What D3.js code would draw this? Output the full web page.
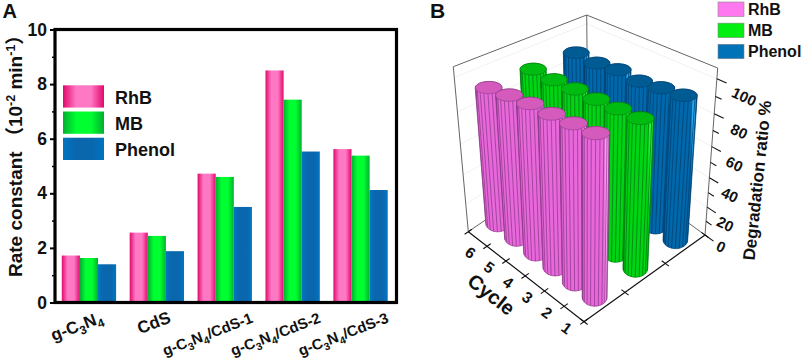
<!DOCTYPE html>
<html>
<head>
<meta charset="utf-8">
<script src="https://cdn.jsdelivr.net/npm/d3@7"></script>
<style>
  html, body { margin: 0; padding: 0; background: #fff; }
  svg { display: block; }
  text { font-family: "Liberation Sans", "Noto Sans CJK SC", sans-serif; font-weight: bold; fill: #111; }
</style>
</head>
<body>
<script>
const width = 803;
const height = 358;

// panel A data
const catalysts = ["g-C3N4", "CdS", "g-C3N4/CdS-1", "g-C3N4/CdS-2", "g-C3N4/CdS-3"];
const seriesNames = ["RhB", "MB", "Phenol"];
const rhbRate = [1.72, 2.56, 4.72, 8.5, 5.62];
const mbRate = [1.63, 2.44, 4.6, 7.43, 5.38];
const phenolRate = [1.4, 1.88, 3.5, 5.53, 4.12];
const rateTicks = [0, 2, 4, 6, 8, 10];
const rateMinor = [1, 3, 5, 7, 9];

// panel B data
const cycles = [1, 2, 3, 4, 5, 6];
const rhbDeg = [95, 94.5, 94, 94, 93, 91.5];
const mbDeg = [92, 91.5, 91, 91, 90.5, 91];
const phenolDeg = [93.5, 92, 90, 91, 89, 89.5];
const degTicks = [0, 20, 40, 60, 80, 100];
const cylBase = 1.5;

const svg = d3.select("body").append("svg").attr("width", width).attr("height", height);
const defs = svg.append("defs");

function barGradient(id, edge, mid) {
  const g = defs.append("linearGradient").attr("id", id).attr("x1", 0).attr("x2", 1).attr("y1", 0).attr("y2", 0);
  g.append("stop").attr("offset", "0%").attr("stop-color", edge);
  g.append("stop").attr("offset", "32%").attr("stop-color", mid);
  g.append("stop").attr("offset", "68%").attr("stop-color", mid);
  g.append("stop").attr("offset", "100%").attr("stop-color", edge);
}
barGradient("gradRhB", "#e00a6c", "#ff78c4");
barGradient("gradMB", "#00b030", "#00ff30");
barGradient("gradPhenol", "#0075c0", "#0a66ad");
const barFills = ["url(#gradRhB)", "url(#gradMB)", "url(#gradPhenol)"];

// ---------- panel A ----------
const x0 = d3.scaleBand().domain(catalysts).range([55, 394.5]).paddingInner(0.2).paddingOuter(0.1);
const x1 = d3.scaleBand().domain(seriesNames).range([0, x0.bandwidth()]);
const y = d3.scaleLinear().domain([0, 10]).range([302.5, 29.5]);

const a = svg.append("g");
[rhbRate, mbRate, phenolRate].forEach((vals, i) => {
  a.append("g").selectAll("rect").data(vals).enter().append("rect")
    .attr("x", (d, j) => x0(catalysts[j]) + x1(seriesNames[i]))
    .attr("y", d => y(d))
    .attr("width", x1.bandwidth())
    .attr("height", d => y(0) - y(d))
    .attr("fill", barFills[i]);
});

a.append("rect").attr("x", 55).attr("y", 29.5).attr("width", 341.5).attr("height", 273)
  .attr("fill", "none").attr("stroke", "#000").attr("stroke-width", 3.2);

const yAxis = d3.axisLeft(y).tickValues(rateTicks).tickSize(5).tickPadding(3);
const yg = a.append("g").attr("transform", "translate(55,0)").call(yAxis);
yg.select(".domain").remove();
yg.selectAll("line").attr("stroke", "#000").attr("stroke-width", 2);
yg.selectAll("text").attr("font-size", 17.5).style("font-family", null);
const yMinor = d3.axisLeft(y).tickValues(rateMinor).tickSize(3).tickFormat("");
const ym = a.append("g").attr("transform", "translate(55,0)").call(yMinor);
ym.select(".domain").remove();
ym.selectAll("line").attr("stroke", "#000").attr("stroke-width", 1.5);

// digits after C or N are set as subscripts
function addSubs(sel, label, sub) {
  let shifted = false;
  label.split(/(?<=[CN])(\d)/).forEach((part, i) => {
    if (!part) return;
    const t = sel.append("tspan").text(part);
    if (i % 2 === 1) { t.attr("font-size", sub).attr("dy", 4); shifted = true; }
    else if (shifted) { t.attr("dy", -4); shifted = false; }
  });
}
a.selectAll(".xlab").data(catalysts).enter().append("text").attr("class", "xlab")
  .attr("font-size", d => d.length < 7 ? 17 : 15)
  .attr("text-anchor", "end")
  .attr("transform", d => `translate(${x0(d) + x0.bandwidth() / 2 + (d.length < 7 ? 15 : 29)},${322}) rotate(-21)`)
  .each(function (d) { addSubs(d3.select(this), d, d.length < 7 ? 12 : 10.5); });

const yTitle = a.append("text").attr("transform", "translate(22,277) rotate(-90)")
  .attr("text-anchor", "start").attr("font-size", 19);
yTitle.append("tspan").text("Rate constant （10");
yTitle.append("tspan").text("-2").attr("font-size", 12.5).attr("dy", -7);
yTitle.append("tspan").text(" min").attr("dy", 7);
yTitle.append("tspan").text("-1").attr("font-size", 12.5).attr("dy", -7);
yTitle.append("tspan").text("）").attr("dy", 7);

const legA = a.append("g");
const legAY = d3.scaleBand().domain(seriesNames).range([85.3, 160]).paddingInner(0.15);
seriesNames.forEach((s, i) => {
  legA.append("rect").attr("x", 63).attr("y", legAY(s)).attr("width", 41).attr("height", legAY.bandwidth()).attr("fill", barFills[i]);
  legA.append("text").attr("x", 115).attr("y", legAY(s) + 18.5).attr("font-size", 18).text(s);
});

svg.append("text").attr("x", 2.5).attr("y", 18).attr("font-size", 20).text("A");
svg.append("text").attr("x", 430).attr("y", 18).attr("font-size", 21).text("B");

// ---------- panel B ----------
// unit square -> quad homography, corners given as (0,0) (1,0) (1,1) (0,1)
function quadMap(p0, p1, p2, p3) {
  const dx1 = p1[0] - p2[0], dx2 = p3[0] - p2[0], sx = p0[0] - p1[0] + p2[0] - p3[0];
  const dy1 = p1[1] - p2[1], dy2 = p3[1] - p2[1], sy = p0[1] - p1[1] + p2[1] - p3[1];
  const den = dx1 * dy2 - dx2 * dy1;
  const g = (sx * dy2 - dx2 * sy) / den;
  const h = (dx1 * sy - sx * dy1) / den;
  const a0 = p1[0] - p0[0] + g * p1[0], b0 = p3[0] - p0[0] + h * p3[0];
  const d0 = p1[1] - p0[1] + g * p1[1], e0 = p3[1] - p0[1] + h * p3[1];
  return (u, v) => {
    const w = g * u + h * v + 1;
    return [(a0 * u + b0 * v + p0[0]) / w, (d0 * u + e0 * v + p0[1]) / w];
  };
}
// u runs front -> left along the cycle axis, v front -> right
const floorMap = quadMap([584, 321.7], [468.3, 231.7], [588, 150], [705, 235]);
const topMap = quadMap([584, 126], [453.3, 66.7], [586.7, 15], [717.7, 68]);

const uScale = d3.scaleBand().domain(cycles).range([0, 1]);
const vScale = d3.scaleBand().domain(seriesNames).range([0, 1]);
const zScale = d3.scaleLinear().domain([0, 106]).range([0, 1]);

// z spacing widens upward, the camera looks down on the box
const zBend = 1.16;
function project(u, v, s) {
  const z = s / (s + zBend * (1 - s));
  const f = floorMap(u, v), t = topMap(u, v);
  return [f[0] + (t[0] - f[0]) * z, f[1] + (t[1] - f[1]) * z];
}
const line = d3.line();
const b = svg.append("g");

const wallEdges = [
  [[1, 0, 0], [1, 0, 1]], [[1, 0, 1], [1, 1, 1]], [[1, 1, 1], [0, 1, 1]], [[0, 1, 1], [0, 1, 0]],
  [[1, 1, 1], [1, 1, 0]], [[1, 0, 0], [1, 1, 0]], [[0, 1, 0], [1, 1, 0]]
];
// faint grid on the walls
const gridG = b.append("g").attr("stroke", "#eee").attr("stroke-width", 0.8).attr("fill", "none");
degTicks.slice(1).forEach(d => {
  const z = zScale(d);
  gridG.append("path").attr("d", line([project(1, 0, z), project(1, 1, z), project(0, 1, z)]));
});
b.append("g").selectAll("path").data(wallEdges).enter().append("path")
  .attr("d", e => line(e.map(p => project(p[0], p[1], p[2]))))
  .attr("stroke", "#666").attr("stroke-width", 1).attr("fill", "none");

// black axes along the floor
b.append("path").attr("d", line([project(1, 0, 0), project(0, 0, 0), project(0, 1, 0)]))
  .attr("stroke", "#111").attr("stroke-width", 1.2).attr("fill", "none");
const uTicks = d3.range(0, 7).map(i => i / 6);
b.append("g").selectAll("path").data(uTicks).enter().append("path")
  .attr("d", u => line([project(u, -0.03, 0), project(u, 0.03, 0)]))
  .attr("stroke", "#111").attr("stroke-width", 1.1);
b.append("g").selectAll("path").data(d3.range(0, 4).map(i => i / 3)).enter().append("path")
  .attr("d", v => line([project(-0.03, v, 0), project(0.03, v, 0)]))
  .attr("stroke", "#111").attr("stroke-width", 1.1);

// z ticks on right edge, major + minor
b.append("g").selectAll("path").data(d3.range(0, 110, 10)).enter().append("path")
  .attr("d", d => line([project(0, 1, zScale(d)), project(d % 20 ? -0.045 : -0.07, 1, zScale(d))]))
  .attr("stroke", "#111").attr("stroke-width", 1.1);

// cylinders
const cylColors = {
  RhB: { body: "#e868dc", dark: "#8c3a88", light: "#ffa0f6", top: "#d45abc" },
  MB: { body: "#00d414", dark: "#00780f", light: "#28f038", top: "#00bc10" },
  Phenol: { body: "#0068ab", dark: "#003f70", light: "#28a8ee", top: "#005b92" }
};
const seriesDeg = { RhB: rhbDeg, MB: mbDeg, Phenol: phenolDeg };
const radius = 0.073;
const circleAngles = d3.range(0, 360, 10).map(d => d * Math.PI / 180);

const items = [];
seriesNames.forEach(s => cycles.forEach((c, i) => items.push({ s, c, val: seriesDeg[s][i] })));
items.sort((p, q) => d3.descending(vScale(p.s), vScale(q.s)) || d3.descending(uScale(p.c), uScale(q.c)));

let idx = 0;
items.forEach(it => {
  const cu = uScale(it.c) + uScale.bandwidth() / 2;
  const cv = vScale(it.s) + vScale.bandwidth() / 2;
  const z = zScale(it.val), z0 = zScale(cylBase);
  const col = cylColors[it.s];
  const ring = zz => circleAngles.map(t => project(cu + radius * Math.cos(t), cv + radius * Math.sin(t), zz));
  const topRing = ring(z), botRing = ring(z0);
  const hull = d3.polygonHull(topRing.concat(botRing));
  const xs = d3.extent(hull, p => p[0]);
  const gid = "cyl" + idx++;
  const g = defs.append("linearGradient").attr("id", gid).attr("gradientUnits", "userSpaceOnUse")
    .attr("x1", xs[0]).attr("x2", xs[1]).attr("y1", 0).attr("y2", 0);
  [[0, col.dark], [0.08, col.body], [0.8, col.body], [0.86, col.light], [0.94, col.light], [1, col.dark]].forEach(st => {
    g.append("stop").attr("offset", st[0]).attr("stop-color", st[1]);
  });
  const cg = b.append("g");
  cg.append("path").attr("d", line(hull) + "Z").attr("fill", `url(#${gid})`).attr("stroke", col.dark).attr("stroke-width", 0.7);
  d3.range(-72, 73, 18).forEach(dt => {
    const t = (225 + dt) * Math.PI / 180;
    const x = cu + radius * Math.cos(t), yy = cv + radius * Math.sin(t);
    cg.append("path").attr("d", line([project(x, yy, z), project(x, yy, z0)]))
      .attr("stroke", col.dark).attr("stroke-width", 0.8).attr("opacity", 0.9);
  });
  cg.append("path").attr("d", line(topRing) + "Z").attr("fill", col.top).attr("stroke", col.dark).attr("stroke-width", 0.6);
});

// labels
b.append("g").selectAll("text").data(cycles).enter().append("text")
  .attr("font-size", 15.5).attr("text-anchor", "middle")
  .attr("transform", c => {
    const p = project(uScale(c) + uScale.bandwidth() / 2, -0.085, 0);
    return `translate(${p[0]},${p[1] + 11}) rotate(36)`;
  })
  .text(c => c);
b.append("text").attr("font-size", 20).attr("text-anchor", "middle")
  .attr("transform", "translate(487,300) rotate(38)").text("Cycle");

b.append("g").selectAll("text").data(degTicks).enter().append("text")
  .attr("font-size", 15).attr("text-anchor", "middle")
  .attr("transform", d => {
    const p = project(-0.13, 1, zScale(d));
    return `translate(${p[0] + d * 0.09 - 2},${p[1] + (d === 0 ? 5 : 10 + d * 0.05)}) rotate(25)`;
  })
  .text(d => d);
b.append("text").attr("font-size", 17).attr("text-anchor", "middle")
  .attr("transform", "translate(763,181) rotate(-84)").text("Degradation ratio %");

const legBY = d3.scaleBand().domain(seriesNames).range([2, 62]).paddingInner(0.16);
const legBFill = { RhB: "#ff78f0", MB: "#00ee10", Phenol: "#0072b8" };
seriesNames.forEach(s => {
  b.append("rect").attr("x", 718).attr("y", legBY(s)).attr("width", 26).attr("height", 14.5)
    .attr("fill", legBFill[s]).attr("stroke", "#888").attr("stroke-width", 0.6);
  b.append("text").attr("x", 748).attr("y", legBY(s) + 13).attr("font-size", 16).text(s);
});
</script>
</body>
</html>
